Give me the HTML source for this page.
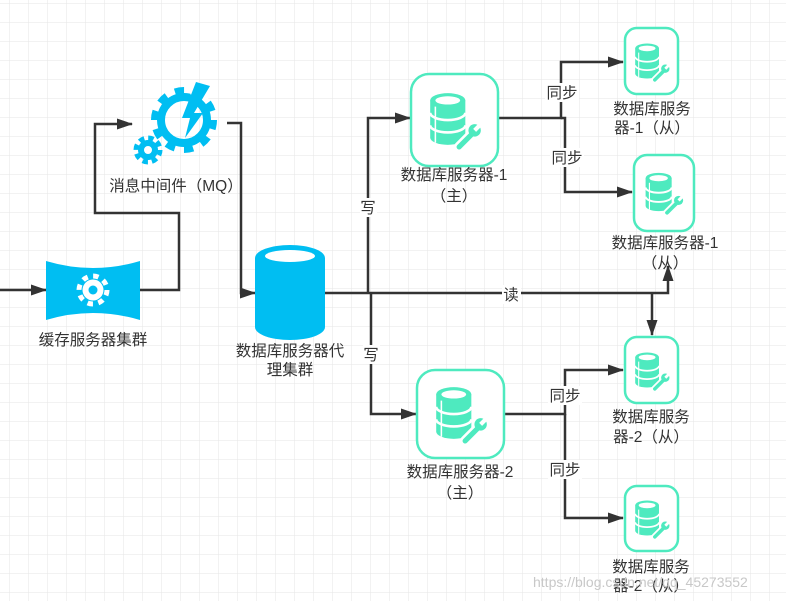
<!DOCTYPE html>
<html><head><meta charset="utf-8"><style>
html,body{margin:0;padding:0;background:#fff;}
svg{display:block;}
text{font-family:"Liberation Sans","Noto Sans CJK SC",sans-serif;font-size:15.5px;fill:#333;}
</style></head><body>
<svg width="786" height="601" viewBox="0 0 786 601" xmlns="http://www.w3.org/2000/svg">
<defs>
<pattern id="g" x="9" y="3" width="19" height="19" patternUnits="userSpaceOnUse">
<path d="M0,0 H19 M0,0 V19" stroke="#e6e6e6" stroke-width="1" fill="none"/>
</pattern>
<marker id="a" markerWidth="16" markerHeight="12" refX="15" refY="6" orient="auto" markerUnits="userSpaceOnUse">
<path d="M0,0.5 L16,6 L0,11.5 Z" fill="#333"/>
</marker>
<symbol id="db" viewBox="0 0 60 60">
<path d="M6,12 L6,48 A17,7 0 0 0 40,48 L40,12 Z" fill="#4eeabf"/>
<ellipse cx="23" cy="12" rx="17" ry="7" fill="#4eeabf"/>
<ellipse cx="23" cy="12" rx="12" ry="4" fill="#fff"/>
<path d="M6,24 A17,7 0 0 0 40,24 M6,36 A17,7 0 0 0 40,36" stroke="#fff" stroke-width="2.5" fill="none"/>
<path d="M11,18 V53" stroke="#fff" stroke-width="1.5"/>
<path d="M34,57 L48,43" stroke="#fff" stroke-width="10" stroke-linecap="round"/>
<circle cx="49" cy="41" r="8" fill="#fff"/>
<path d="M34,57 L48,43" stroke="#4eeabf" stroke-width="5" stroke-linecap="round"/>
<circle cx="49" cy="41" r="6" fill="#4eeabf"/>
<path d="M49,41 L56,34" stroke="#fff" stroke-width="4"/>
</symbol>
</defs>
<rect width="786" height="601" fill="#fff"/>
<rect width="786" height="601" fill="url(#g)"/>

<g stroke="#333" stroke-width="2.5" fill="none">
<path d="M0,290 H46" marker-end="url(#a)"/>
<path d="M140,290 H179 V213 H95 V124 H132" marker-end="url(#a)"/>
<path d="M227,123 H241 V293 H255" marker-end="url(#a)"/>
<path d="M325,293 H668 V266" marker-end="url(#a)"/>
<path d="M652,293 V335" marker-end="url(#a)"/>
<path d="M368,293 V118 H410" marker-end="url(#a)"/>
<path d="M371,293 V414 H416" marker-end="url(#a)"/>
<path d="M498,118 H561 V62 H623" marker-end="url(#a)"/>
<path d="M561,118 H565 V192 H632" marker-end="url(#a)"/>
<path d="M505,414 H565 V370 H623" marker-end="url(#a)"/>
<path d="M565,414 V518 H623" marker-end="url(#a)"/>
</g>

<g>
<rect x="360" y="198" width="17" height="19" fill="#fff"/><text x="368" y="213" text-anchor="middle">写</text>
<rect x="363" y="345" width="17" height="19" fill="#fff"/><text x="371" y="360" text-anchor="middle">写</text>
<rect x="502" y="285" width="19" height="19" fill="#fff"/><text x="511" y="300" text-anchor="middle">读</text>
<rect x="545" y="83" width="34" height="19" fill="#fff"/><text x="562" y="98" text-anchor="middle">同步</text>
<rect x="550" y="148" width="34" height="19" fill="#fff"/><text x="567" y="163" text-anchor="middle">同步</text>
<rect x="548" y="386" width="34" height="19" fill="#fff"/><text x="565" y="401" text-anchor="middle">同步</text>
<rect x="548" y="460" width="34" height="19" fill="#fff"/><text x="565" y="475" text-anchor="middle">同步</text>
</g>

<path d="M46,261 Q93,275 140,261 L140,320 Q93,306 46,320 Z" fill="#00bef2"/>
<circle cx="93" cy="290" r="14" fill="none" stroke="#fff" stroke-width="5" stroke-dasharray="5.5 5.5"/>
<circle cx="93" cy="290" r="10.5" fill="#fff"/>
<circle cx="93" cy="290" r="4.5" fill="#00bef2"/>
<text x="93" y="345" text-anchor="middle">缓存服务器集群</text>

<circle cx="184" cy="120" r="29" fill="none" stroke="#00bef2" stroke-width="8" stroke-dasharray="9.1 9.1"/>
<circle cx="184" cy="120" r="23" fill="none" stroke="#00bef2" stroke-width="8"/>
<rect x="193" y="84" width="18" height="14" fill="#fff" transform="rotate(25 200 90)"/>
<path d="M196,82 L210,86 L194,113 L203,113 L185,138 L190,118 L182,118 Z" fill="#00bef2"/>
<circle cx="148" cy="150" r="12" fill="none" stroke="#00bef2" stroke-width="5" stroke-dasharray="5.4 4"/>
<circle cx="148" cy="150" r="7" fill="none" stroke="#00bef2" stroke-width="6"/>
<text x="176" y="191" text-anchor="middle">消息中间件（MQ）</text>

<path d="M255,258 L255,327 A35,13 0 0 0 325,327 L325,258 Z" fill="#00bef2"/>
<ellipse cx="290" cy="258" rx="35" ry="13" fill="#00bef2"/>
<ellipse cx="290" cy="256" rx="25" ry="6" fill="#fff"/>
<text x="290" y="356" text-anchor="middle">数据库服务器代</text>
<text x="290" y="375" text-anchor="middle">理集群</text>

<rect x="411" y="74" width="87" height="92" rx="18" fill="#fff" stroke="#4eeabf" stroke-width="2.5"/>
<use href="#db" x="424" y="88" width="62" height="62"/>
<text x="454" y="180" text-anchor="middle">数据库服务器-1</text>
<text x="454" y="201" text-anchor="middle">（主）</text>

<rect x="417" y="370" width="87" height="88" rx="18" fill="#fff" stroke="#4eeabf" stroke-width="2.5"/>
<use href="#db" x="430" y="382" width="62" height="62"/>
<text x="460" y="477" text-anchor="middle">数据库服务器-2</text>
<text x="460" y="498" text-anchor="middle">（主）</text>

<rect x="625" y="28" width="53" height="66" rx="12" fill="#fff" stroke="#4eeabf" stroke-width="2.5"/>
<use href="#db" x="631" y="40" width="42" height="42"/>
<text x="652" y="114" text-anchor="middle">数据库服务</text>
<text x="652" y="133" text-anchor="middle">器-1（从）</text>

<rect x="634" y="155" width="60" height="76" rx="13" fill="#fff" stroke="#4eeabf" stroke-width="2.5"/>
<use href="#db" x="641" y="169" width="46" height="46"/>
<text x="665" y="248" text-anchor="middle">数据库服务器-1</text>
<text x="665" y="268" text-anchor="middle">（从）</text>

<rect x="625" y="337" width="53" height="66" rx="12" fill="#fff" stroke="#4eeabf" stroke-width="2.5"/>
<use href="#db" x="631" y="349" width="42" height="42"/>
<text x="651" y="422" text-anchor="middle">数据库服务</text>
<text x="651" y="442" text-anchor="middle">器-2（从）</text>

<rect x="625" y="486" width="53" height="65" rx="12" fill="#fff" stroke="#4eeabf" stroke-width="2.5"/>
<use href="#db" x="631" y="497" width="42" height="42"/>
<text x="651" y="572" text-anchor="middle">数据库服务</text>
<text x="651" y="591" text-anchor="middle">器-2（从）</text>

<text x="533" y="587" style="fill:#c8c8c8;font-size:14px">https://blog.csdn.net/qq_45273552</text>
</svg>
</body></html>
